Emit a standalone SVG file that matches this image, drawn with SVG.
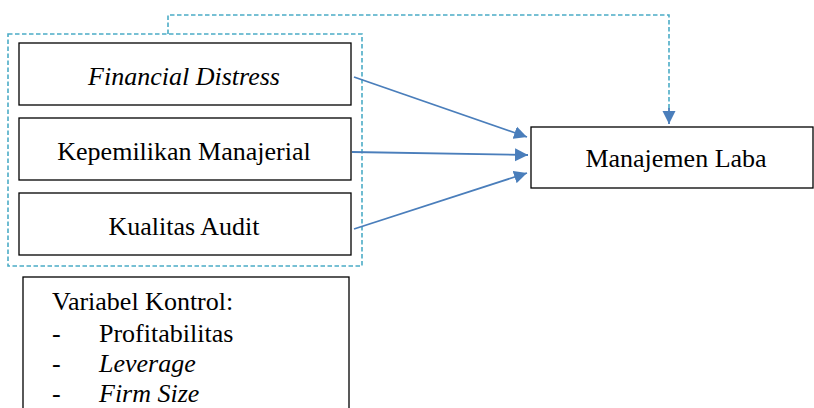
<svg xmlns="http://www.w3.org/2000/svg" width="814" height="408" viewBox="0 0 814 408">
<style>
  .box { fill: #ffffff; stroke: #000000; stroke-width: 1.3; }
  .t { font-family: "Liberation Serif", "Times New Roman", serif; font-size: 26px; fill: #000000; }
  .c { text-anchor: middle; }
  .i { font-style: italic; }
  .dash { fill: none; stroke: #4bacc6; stroke-width: 1.6; stroke-dasharray: 4.5 2.5; }
  .arr { fill: none; stroke: #4a7ebb; stroke-width: 1.8; }
</style>
<defs>
  <marker id="ah" markerUnits="userSpaceOnUse" markerWidth="14" markerHeight="14" refX="13" refY="7" orient="auto">
    <path d="M0,0.5 L13,7 L0,13.5 Z" fill="#4a7ebb"/>
  </marker>
</defs>
<rect width="814" height="408" fill="#ffffff"/>
<g id="group-independent">
  <rect class="dash" x="8" y="34" width="354" height="232"/>
</g>
<g id="node-financial-distress">
  <rect class="box" x="19" y="43" width="332" height="62"/>
  <text class="t c i" x="184" y="85">Financial Distress</text>
</g>
<g id="node-kepemilikan">
  <rect class="box" x="19" y="118" width="332" height="62"/>
  <text class="t c" x="184" y="160">Kepemilikan Manajerial</text>
</g>
<g id="node-kualitas">
  <rect class="box" x="19" y="193" width="332" height="62"/>
  <text class="t c" x="184" y="235">Kualitas Audit</text>
</g>
<g id="node-manajemen-laba">
  <rect class="box" x="531" y="127" width="282" height="61"/>
  <text class="t c" x="676" y="167">Manajemen Laba</text>
</g>
<g id="node-variabel-kontrol">
  <rect class="box" x="23" y="277" width="326" height="140"/>
  <text class="t" x="52" y="310">Variabel Kontrol:</text>
  <text class="t" x="52" y="342">-</text>
  <text class="t" x="99" y="342">Profitabilitas</text>
  <text class="t" x="52" y="372">-</text>
  <text class="t i" x="99" y="372">Leverage</text>
  <text class="t" x="52" y="402">-</text>
  <text class="t i" x="99" y="402">Firm Size</text>
</g>
<g id="connectors">
  <line class="arr" x1="354" y1="77" x2="527" y2="137" marker-end="url(#ah)"/>
  <line class="arr" x1="352" y1="152" x2="528" y2="155" marker-end="url(#ah)"/>
  <line class="arr" x1="354" y1="229" x2="527" y2="173" marker-end="url(#ah)"/>
  <path class="dash" d="M168,34 V15 H669 V110"/>
  <line class="arr" x1="669" y1="108" x2="669" y2="124" marker-end="url(#ah)"/>
</g>
</svg>
